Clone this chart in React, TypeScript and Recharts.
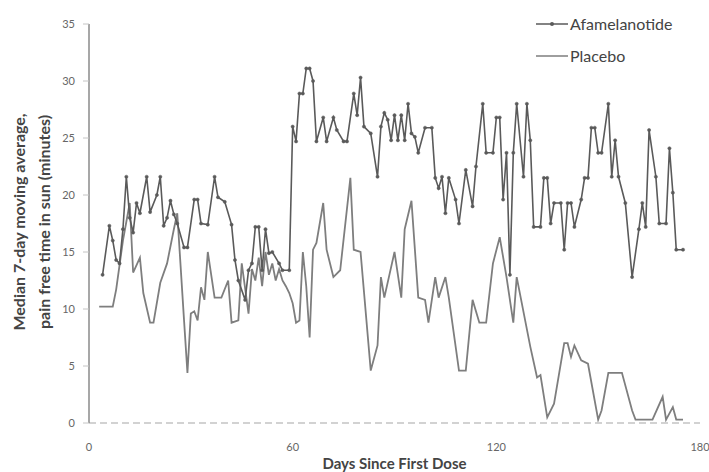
import { LineChart, Line, XAxis, YAxis } from 'recharts';

// values (day, median minutes)
const afamDays = [
  4, 6, 7, 8, 9, 10, 11, 12, 13, 14, 15, 17, 18, 20, 21, 22, 23, 24, 25, 26, 28, 29, 31, 32, 33, 35, 37, 38, 40,
  42, 43, 44, 46, 47, 48, 49, 50, 51, 52, 53, 54, 56, 57, 59, 60, 61, 62, 63, 64, 65, 66, 67, 69, 70, 72, 73, 75,
  76, 78, 79, 80, 81, 83, 85, 86, 87, 88, 89, 90, 91, 92, 93, 94, 95, 96, 97, 99, 101, 102, 103, 104, 105, 106,
  108, 109, 111, 113, 114, 116, 117, 119, 120, 121, 122, 123, 124, 125, 126, 128, 129, 130, 131, 133, 134, 135,
  136, 137, 139, 140, 141, 142, 143, 145, 146, 147, 148, 149, 150, 151, 153, 154, 155, 156, 158, 160, 162, 163,
  164, 165, 167, 168, 170, 171, 172, 173, 175,
];
const afamMinutes = [
  13, 17.3, 16, 14.3, 14, 17, 21.6, 18, 16.7, 19.3, 18.4, 21.6, 18.5, 20, 21.6, 17.3, 18, 19.5, 18.3, 17.5, 15.4,
  15.4, 19.6, 19.6, 17.5, 17.4, 21.6, 19.8, 19.4, 17.4, 14.3, 12.5, 10.8, 13.4, 14, 17.2, 17.2, 13.4, 17, 14.9, 15,
  14, 13.4, 13.4, 26, 24.7, 28.9, 28.9, 31.1, 31.1, 30, 24.7, 26.8, 24.7, 26.8, 25.7, 24.7, 24.7, 28.9, 27, 30.3,
  26, 25.4, 21.6, 26, 27.2, 26.6, 24.8, 27, 24.8, 27, 24.8, 28, 25.4, 25.1, 23.7, 25.9, 25.9, 21.5, 20.6, 21.6,
  18.4, 21.5, 19.6, 17.5, 22.2, 19, 22.5, 28, 23.7, 23.7, 26.8, 26.8, 19.6, 23.7, 13, 23.7, 28, 21.6, 28, 24.8,
  17.2, 17.2, 21.5, 21.5, 17.5, 19.3, 19.3, 15.2, 19.3, 19.3, 17.2, 19.6, 21.5, 21.5, 25.9, 25.9, 23.7, 23.7, 28,
  21.6, 24.8, 21.6, 19.3, 12.8, 17, 19.3, 17.2, 25.7, 21.6, 17.5, 17.5, 24.1, 20.2, 15.2, 15.2,
];

const placeboDays = [
  3, 7, 8, 10, 12, 13, 15, 16, 18, 19, 21, 23, 25, 26, 28, 29, 30, 31, 32, 33, 34, 35, 37, 39, 41, 42, 44, 45, 47,
  48, 49, 50, 51, 52, 53, 54, 55, 56, 57, 58, 59, 60, 61, 62, 63, 64, 65, 66, 67, 69, 70, 72, 74, 77, 78, 80, 83,
  85, 86, 87, 90, 92, 93, 95, 97, 99, 100, 102, 103, 105, 106, 109, 111, 113, 115, 117, 119, 121, 123, 125, 126,
  130, 132, 133, 135, 137, 140, 141, 142, 143, 145, 147, 150, 151, 153, 157, 160, 161, 166, 169, 170, 172, 173, 175,
];
const placeboMinutes = [
  10.2, 10.2, 11.7, 16, 19.3, 13.2, 14.5, 11.4, 8.8, 8.8, 12.3, 14, 17, 18.4, 9, 4.4, 9.6, 9.8, 9, 11.9, 10.8, 15,
  11, 11, 12.5, 8.8, 9, 14, 9.6, 13.5, 12.5, 14.5, 12, 15, 13, 14, 12.5, 13.5, 12.5, 12, 11.4, 10.5, 8.8, 9, 15, 12,
  7.5, 15.2, 15.8, 19.3, 15.2, 12.8, 13.4, 21.5, 15.2, 15, 4.6, 6.8, 12.8, 11, 15, 11, 17, 19.5, 11, 10.8, 8.8,
  12.8, 11, 12.8, 11, 4.6, 4.6, 10.8, 8.8, 8.8, 14, 16.3, 12.8, 8.8, 12.8, 6.7, 4, 4.2, 0.5, 1.7, 7, 7, 5.8, 6.8,
  5.5, 5.2, 0.3, 1.1, 4.4, 4.4, 1.1, 0.3, 0.3, 2.3, 0.3, 1.4, 0.3, 0.3,
];

const xTicks = [0, 60, 120, 180];
const yTicks = [0, 5, 10, 15, 20, 25, 30, 35];

const afamData = afamDays.map((d, i) => ({ day: d, value: afamMinutes[i] }));
const placeboData = placeboDays.map((d, i) => ({ day: d, value: placeboMinutes[i] }));

const AFAM = '#5a5a5a';
const PLACEBO = '#7e7e7e';
const FONT = 'Lato, "Open Sans", sans-serif';

function LegendBox() {
  return (
    <div
      style={{
        position: 'absolute',
        left: 536,
        top: 8,
        fontFamily: FONT,
        fontSize: 16,
        color: '#444',
        lineHeight: '32px',
      }}
    >
      <div style={{ display: 'flex', alignItems: 'center' }}>
        <svg width={34} height={10}>
          <line x1={0} y1={5} x2={32} y2={5} stroke={AFAM} strokeWidth={1.5} />
          <circle cx={16} cy={5} r={2} fill={AFAM} />
        </svg>
        Afamelanotide
      </div>
      <div style={{ display: 'flex', alignItems: 'center' }}>
        <svg width={34} height={10}>
          <line x1={0} y1={5} x2={32} y2={5} stroke={PLACEBO} strokeWidth={1.5} />
        </svg>
        Placebo
      </div>
    </div>
  );
}

function YTitle() {
  const common = {
    textAnchor: 'middle' as const,
    dominantBaseline: 'central' as const,
    fontFamily: FONT,
    fontWeight: 700,
    fontSize: 16,
    fill: '#444',
  };
  return (
    <g>
      <text x={18} y={222} transform="rotate(-90 18 222)" {...common}>
        Median 7-day moving average,
      </text>
      <text x={43} y={222} transform="rotate(-90 43 222)" {...common}>
        pain free time in sun (minutes)
      </text>
    </g>
  );
}

export default function App() {
  return (
    <div style={{ position: 'absolute', left: 0, top: 0, width: 709, height: 472, background: '#fff' }}>
      <LineChart width={709} height={472} margin={{ top: 24, right: 9, bottom: 0, left: 0 }}>
        <XAxis
          type="number"
          dataKey="day"
          domain={[0, 180]}
          ticks={xTicks}
          height={49}
          tickLine={false}
          tickMargin={14}
          axisLine={{ stroke: '#c4c4c4', strokeDasharray: '7 4', strokeWidth: 1.5 }}
          tick={{ fontSize: 11, fill: '#666', fontFamily: FONT }}
          label={{
            value: 'Days Since First Dose',
            position: 'insideBottom',
            offset: 3,
            fontSize: 15,
            fontWeight: 700,
            fill: '#444',
            fontFamily: FONT,
          }}
        />
        <YAxis
          type="number"
          domain={[0, 35]}
          ticks={yTicks}
          width={89}
          tickSize={6}
          tickMargin={8}
          tickLine={{ stroke: '#c4c4c4' }}
          axisLine={{ stroke: '#8a8a8a', strokeWidth: 1.5 }}
          tick={{ fontSize: 11, fill: '#666', fontFamily: FONT }}
          label={() => <YTitle />}
        />
        <Line
          data={placeboData}
          dataKey="value"
          name="Placebo"
          type="linear"
          stroke={PLACEBO}
          strokeWidth={1.8}
          dot={false}
          isAnimationActive={false}
        />
        <Line
          data={afamData}
          dataKey="value"
          name="Afamelanotide"
          type="linear"
          stroke={AFAM}
          strokeWidth={1.6}
          dot={{ r: 1.6, fill: AFAM, stroke: AFAM, strokeWidth: 0.5 }}
          isAnimationActive={false}
        />
      </LineChart>
      <LegendBox />
    </div>
  );
}
